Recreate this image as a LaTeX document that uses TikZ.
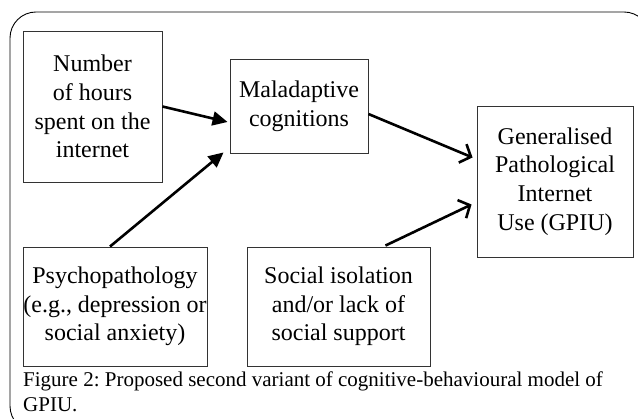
\documentclass[tikz,border=0pt]{standalone}
\usepackage{fontspec}
\setmainfont{Liberation Serif}
\usetikzlibrary{arrows.meta,calc}
\frenchspacing
\tikzset{
  box/.style={draw=black!80, line width=0.9pt, align=center, inner sep=0pt,
    font=\fontsize{24}{28.7}\selectfont},
  fillarrow/.style={line width=2.6pt, -{Triangle[length=15pt,width=14pt]}},
  openarrow/.style={line width=2.6pt, -{Straight Barb[length=9pt,width=20pt]}},
}
\begin{document}
\begin{tikzpicture}[x=1pt,y=-1pt]
\useasboundingbox (0,0) rectangle (638,419);
\begin{scope}
\clip (0,0) rectangle (638,419);
\draw[line width=0.9pt, rounded corners=26pt] (10,12) rectangle (650,432);
\end{scope}
\node[box, minimum width=139pt, minimum height=151pt] (b1) at (92.5,106.5)
  {Number\\of hours\\spent on the\\internet};
\node[box, minimum width=138pt, minimum height=94pt] (b2) at (299,106)
  {Maladaptive\\cognitions};
\node[box, minimum width=156pt, minimum height=151pt] (b3) at (555,181.5)
  {Generalised\\Pathological\\Internet\\Use (GPIU)};
\node[box, minimum width=184pt, minimum height=119pt] (b4) at (115,306.5)
  {Psychopathology\\(e.g., depression or\\social anxiety)};
\node[box, minimum width=183pt, minimum height=119pt] (b5) at (338.5,306.5)
  {Social isolation\\and/or lack of\\social support};
\node[anchor=base west, align=left, inner sep=0pt, font=\fontsize{21}{25}\selectfont] (cap) at (23,412)
  {Figure 2: Proposed second variant of cognitive-behavioural model of\\GPIU.};
\draw[fillarrow] (b1.east) -- ($(b2.west)+(-2,16)$);
\draw[fillarrow] ($(b4.north)+(-5,0)$) -- ($(b2.south west)+(-6,-1)$);
\draw[openarrow] ($(b2.east)+(0,8)$) -- ($(b3.west)+(-4,-24)$);
\draw[openarrow] ($(b5.north)+(47,-1)$) -- ($(b3.west)+(-5,23)$);
\end{tikzpicture}
\end{document}
